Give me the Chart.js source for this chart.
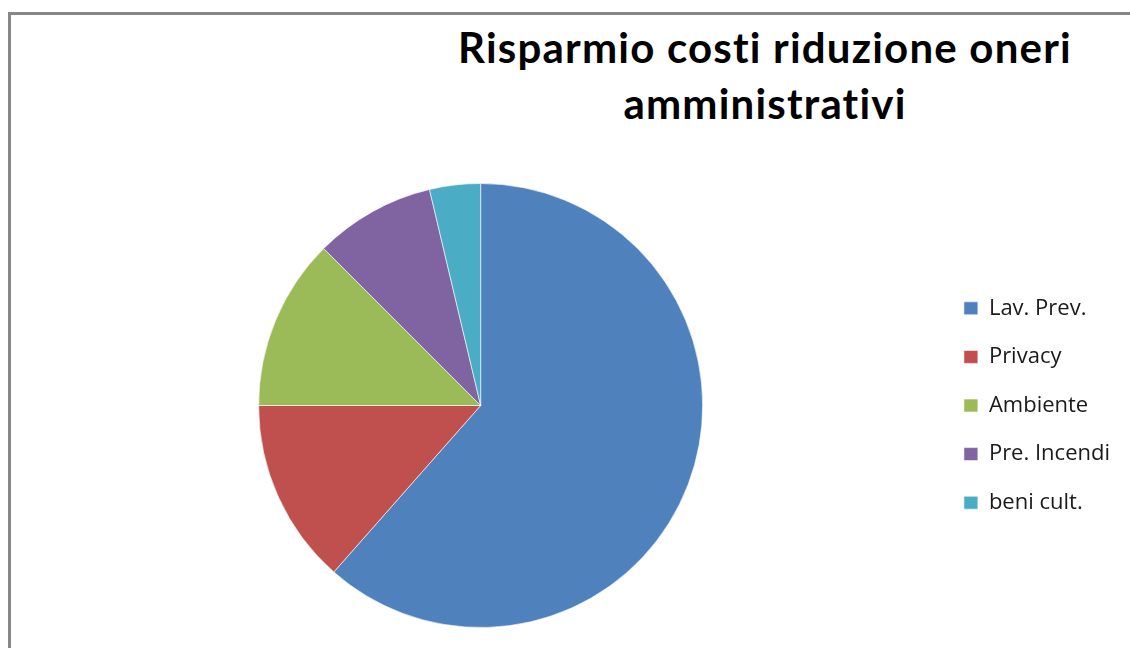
<!DOCTYPE html>
<html>
<head>
<meta charset="utf-8">
<script src="https://cdn.jsdelivr.net/npm/chart.js@4/dist/chart.umd.min.js"></script>
<style>
  html, body { margin: 0; padding: 0; background: #fff; }
  body { width: 1130px; height: 648px; position: relative; overflow: hidden; }
  #frame { position: absolute; left: 8px; top: 12px; width: 1200px; height: 700px;
           border-left: 3px solid #878787; border-top: 3px solid #878787; }
  #title { position: absolute; left: 415px; width: 700px; top: 19px; text-align: center;
           font-family: Lato, sans-serif; font-weight: bold; font-size: 42px; line-height: 56px;
           letter-spacing: 1.2px; color: #000; }
  #wrap { position: absolute; left: 24px; top: 183px; width: 1096px; height: 445px; }
</style>
</head>
<body>
<div id="frame"></div>
<div id="title">Risparmio costi riduzione oneri<br>amministrativi</div>
<div id="wrap"><canvas id="pie"></canvas></div>
<script>
// DATA
const categories = ['Lav. Prev.', 'Privacy', 'Ambiente', 'Pre. Incendi', 'beni cult.'];
const savingsShare = [61.5, 13.5, 12.5, 8.8, 3.7];
const sliceColors = ['#4F81BD', '#C0504D', '#9BBB59', '#8064A2', '#4BACC6'];

const ctx = document.getElementById('pie').getContext('2d');
new Chart(ctx, {
    type: 'pie',
    data: {
        labels: categories,
        datasets: [{
            data: savingsShare,
            backgroundColor: sliceColors,
            borderColor: 'rgba(255,255,255,0.6)',
            borderWidth: 1
        }]
    },
    options: {
        responsive: true,
        maintainAspectRatio: false,
        animation: false,
        layout: { padding: 0 },
        plugins: {
            title: { display: false },
            tooltip: { enabled: false },
            legend: {
                position: 'right',
                labels: {
                    boxWidth: 14,
                    boxHeight: 13,
                    padding: 26.6,
                    color: '#1a1a1a',
                    font: { family: 'Open Sans', size: 22 }
                }
            }
        }
    }
});
</script>
</body>
</html>
